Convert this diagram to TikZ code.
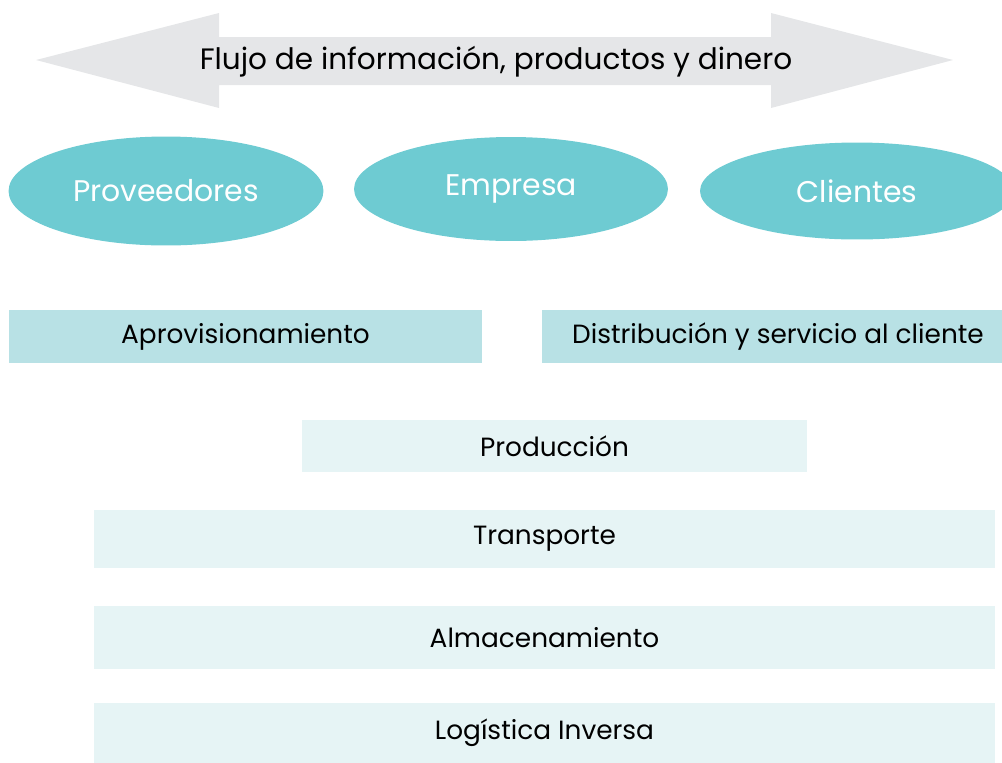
\documentclass[tikz,border=0pt]{standalone}
\usepackage{fontspec}
\setmainfont{Poppins}
\usetikzlibrary{positioning,shapes.geometric}
\definecolor{flowgray}{HTML}{E5E6E8}
\definecolor{actorteal}{HTML}{6ECBD2}
\definecolor{procmid}{HTML}{B8E1E5}
\definecolor{proclight}{HTML}{E6F4F5}

\begin{document}
\begin{tikzpicture}[
    x=0.02cm, y=-0.02cm,
    actor/.style={
      ellipse,
      fill=actorteal,
      text=white,
      inner sep=0pt,
      font=\fontsize{17}{20}\selectfont
    },
    mainproc/.style={
      rectangle,
      fill=procmid,
      inner sep=0pt,
      minimum height=1.06cm,
      font=\fontsize{15}{18}\selectfont
    },
    subproc/.style={
      rectangle,
      fill=proclight,
      inner sep=0pt,
      font=\fontsize{15}{18}\selectfont
    }
  ]
    \useasboundingbox (0,0) rectangle (1002,762);
    \clip (0,0) rectangle (1002,762);

    % flujo en ambos sentidos
    \fill[flowgray] (36,60) -- (219,13) -- (219,37) -- (771,37) -- (771,13)
      -- (953,60) -- (771,108) -- (771,85) -- (219,85) -- (219,108) -- cycle;
    \node[font=\fontsize{16.8}{20}\selectfont, anchor=base] (flujo) at (496,69)
      {Flujo de información, productos y dinero};

    % actores
    \node[actor, minimum width=6.3cm, minimum height=2.18cm] (prov) at (166,191) {Proveedores};
    \node[actor, minimum width=6.28cm, minimum height=2.08cm] (emp) at (511,189) {Empresa};
    \node[actor, minimum width=6.28cm, minimum height=1.94cm] (cli) at (857,191) {Clientes};

    % procesos
    \node[mainproc, minimum width=9.46cm] (aprov) at (245.5,336.5) {Aprovisionamiento};
    \node[mainproc, minimum width=9.44cm] (dist) at (778,336.5) {Distribución y servicio al cliente};

    \node[subproc, minimum width=10.1cm, minimum height=1.04cm] (prod) at (554.5,446) {Producción};
    \node[subproc, minimum width=18.02cm, minimum height=1.16cm] (trans) at (544.5,539) {Transporte};
    \node[subproc, minimum width=18.02cm, minimum height=1.26cm] (alm) at (544.5,637.5) {Almacenamiento};
    \node[subproc, minimum width=18.02cm, minimum height=1.2cm] (inv) at (544.5,733) {Logística Inversa};
  \end{tikzpicture}
\end{document}
